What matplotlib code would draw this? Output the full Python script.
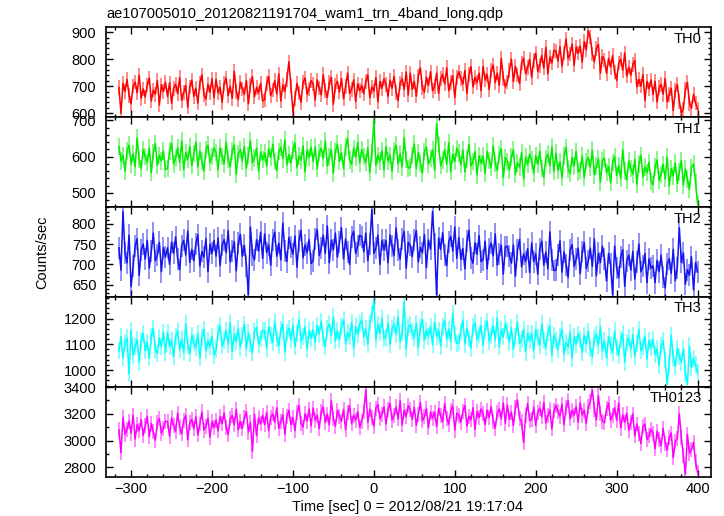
import matplotlib
matplotlib.use("Agg")
import matplotlib.pyplot as plt
import numpy as np
from matplotlib.ticker import MultipleLocator

plt.rcParams['font.family'] = ['Liberation Sans', 'DejaVu Sans']

title = "ae107005010_20120821191704_wam1_trn_4band_long.qdp"
xlabel = "Time [sec] 0 = 2012/08/21 19:17:04"
ylabel = "Counts/sec"

# time bins (sec), 2.5 s bins from -315 to 400
t = np.arange(-315, 400.1, 2.5)

th0 = [695, 600, 710, 680, 725, 665, 635, 700, 715, 675, 740, 655, 690, 660, 705, 730, 645, 685, 670, 720, 630, 705, 680, 715,
       662, 712, 637, 692, 707, 672, 732, 647, 677, 702, 622, 697, 722, 662, 692, 637, 712, 742, 667, 652, 707, 677, 727, 657,
       725, 675, 695, 640, 710, 730, 665, 700, 655, 755, 680, 650, 715, 690, 670, 720, 635, 705, 735, 660, 695, 675, 710, 645,
       650, 710, 735, 665, 685, 720, 670, 745, 645, 705, 680, 725, 790, 700, 605, 655, 710, 675, 640, 715, 730, 670, 690, 720,
       708, 648, 723, 693, 668, 743, 683, 658, 713, 733, 633, 703, 718, 678, 728, 653, 698, 748, 673, 688, 723, 643, 708, 683,
       702, 672, 717, 742, 657, 697, 682, 732, 642, 717, 692, 727, 707, 662, 722, 692, 737, 677, 647, 712, 727, 687, 752, 667,
       748, 688, 718, 663, 738, 768, 693, 678, 733, 703, 753, 683, 698, 748, 673, 728, 743, 708, 768, 683, 713, 738, 658, 733,
       753, 728, 708, 758, 673, 743, 773, 698, 733, 713, 748, 683, 773, 723, 743, 688, 758, 778, 713, 748, 703, 803, 728, 698,
       715, 757, 800, 717, 774, 742, 709, 786, 803, 746, 768, 800, 733, 795, 822, 755, 777, 814, 767, 844, 746, 808, 786, 833,
       830, 793, 846, 774, 822, 875, 802, 819, 856, 778, 845, 822, 848, 789, 865, 835, 905, 882, 819, 790, 840, 855, 748, 810,
       797, 747, 803, 770, 813, 752, 721, 785, 800, 759, 823, 737, 771, 740, 780, 795, 698, 725, 700, 743, 647, 718, 690, 723,
       670, 718, 641, 694, 707, 670, 728, 641, 669, 692, 610, 683, 706, 644, 600, 615, 687, 714, 636, 618, 670, 637, 615]

th1 = [628, 588, 604, 560, 616, 632, 580, 608, 572, 652, 592, 568, 620, 600, 584, 624, 556, 612, 636, 576, 604, 588, 616, 564,
       568, 616, 636, 580, 596, 624, 584, 644, 564, 612, 592, 628, 576, 608, 640, 572, 616, 588, 560, 620, 632, 584, 600, 624,
       612, 564, 624, 600, 580, 640, 592, 572, 616, 632, 552, 608, 620, 588, 628, 568, 604, 644, 584, 596, 624, 560, 612, 592,
       610, 574, 622, 598, 634, 586, 562, 614, 626, 594, 646, 578, 606, 582, 618, 638, 570, 602, 590, 630, 558, 618, 598, 626,
       587, 627, 567, 611, 623, 595, 643, 575, 599, 619, 555, 615, 635, 587, 611, 567, 627, 651, 591, 579, 623, 599, 639, 583,
       620, 600, 584, 624, 556, 612, 700, 576, 604, 588, 616, 564, 628, 588, 604, 560, 616, 632, 580, 608, 572, 652, 592, 568,
       571, 603, 635, 567, 611, 583, 555, 615, 627, 579, 595, 619, 563, 690, 631, 575, 591, 619, 579, 639, 559, 607, 587, 623,
       610, 578, 618, 558, 594, 634, 574, 586, 614, 550, 602, 582, 602, 554, 614, 590, 570, 630, 582, 562, 606, 622, 542, 598,
       587, 563, 599, 619, 551, 583, 571, 611, 539, 599, 579, 607, 591, 555, 603, 579, 615, 567, 543, 595, 607, 575, 627, 559,
       610, 562, 586, 542, 602, 626, 566, 554, 598, 574, 614, 558, 562, 602, 542, 586, 598, 570, 618, 550, 574, 594, 530, 590,
       596, 556, 572, 528, 584, 600, 548, 576, 540, 620, 560, 536, 588, 568, 552, 592, 524, 580, 604, 544, 572, 556, 584, 532,
       523, 571, 591, 535, 551, 579, 539, 599, 519, 567, 547, 583, 526, 558, 590, 522, 566, 538, 510, 570, 580, 530, 470]

th2 = [741, 686, 830, 727, 704, 772, 645, 695, 745, 763, 673, 736, 750, 713, 759, 691, 732, 777, 709, 722, 754, 682, 741, 718,
       741, 700, 755, 727, 768, 714, 687, 746, 759, 723, 782, 705, 737, 709, 750, 773, 696, 732, 718, 764, 682, 750, 727, 759,
       720, 765, 697, 747, 761, 729, 783, 706, 733, 756, 684, 752, 774, 720, 747, 697, 625, 792, 724, 711, 761, 733, 779, 715,
       775, 729, 748, 698, 761, 779, 720, 752, 711, 802, 734, 707, 766, 743, 725, 770, 693, 757, 784, 716, 748, 729, 761, 702,
       709, 763, 786, 722, 740, 772, 727, 795, 704, 759, 736, 777, 718, 754, 790, 713, 763, 731, 700, 768, 781, 727, 745, 772,
       768, 731, 777, 709, 750, 835, 727, 740, 772, 700, 759, 736, 759, 704, 772, 745, 722, 790, 736, 713, 763, 781, 691, 754,
       747, 719, 760, 783, 706, 742, 728, 774, 692, 760, 737, 830, 751, 625, 765, 737, 778, 724, 697, 756, 769, 733, 792, 715,
       766, 712, 739, 689, 757, 784, 716, 703, 753, 725, 771, 707, 712, 757, 689, 739, 753, 721, 775, 698, 725, 748, 676, 744,
       744, 721, 703, 748, 671, 735, 762, 694, 726, 707, 739, 680, 753, 707, 726, 676, 739, 757, 698, 730, 689, 780, 712, 685,
       686, 722, 758, 681, 731, 699, 668, 736, 749, 695, 713, 740, 677, 731, 754, 690, 708, 740, 695, 763, 672, 727, 704, 745,
       714, 659, 727, 700, 625, 745, 691, 668, 718, 736, 646, 709, 723, 686, 732, 664, 705, 750, 682, 695, 727, 655, 714, 691,
       696, 655, 710, 682, 723, 669, 642, 701, 714, 678, 737, 660, 692, 790, 705, 728, 651, 687, 673, 719, 637, 705, 682]

th3 = [1075, 1130, 1047, 1108, 1125, 985, 1152, 1058, 1091, 1119, 1031, 1114, 1141, 1075, 1108, 1047, 1130, 1163, 1080, 1064, 1125, 1091, 1147, 1069,
       1147, 1091, 1114, 1053, 1130, 1152, 1080, 1119, 1069, 1180, 1097, 1064, 1136, 1108, 1086, 1141, 1047, 1125, 1158, 1075, 1114, 1091, 1130, 1058,
       1078, 1144, 1172, 1094, 1116, 1155, 1100, 1183, 1072, 1139, 1111, 1161, 1089, 1133, 1177, 1083, 1144, 1105, 1067, 1150, 1166, 1100, 1122, 1155,
       1152, 1085, 1168, 1135, 1107, 1190, 1124, 1096, 1157, 1179, 1069, 1146, 1163, 1118, 1174, 1091, 1141, 1196, 1113, 1129, 1168, 1080, 1152, 1124,
       1157, 1107, 1174, 1140, 1190, 1124, 1091, 1163, 1179, 1135, 1207, 1113, 1152, 1118, 1168, 1196, 1102, 1146, 1129, 1185, 1085, 1168, 1140, 1179,
       1194, 1128, 1161, 1100, 1183, 1216, 1270, 1117, 1178, 1144, 1200, 1122, 1128, 1183, 1100, 1161, 1178, 1139, 1205, 1111, 1144, 1265, 1084, 1167,
       1176, 1148, 1126, 1181, 1087, 1165, 1198, 1115, 1154, 1131, 1170, 1098, 1187, 1131, 1154, 1093, 1170, 1192, 1120, 1159, 1109, 1220, 1137, 1104,
       1107, 1151, 1195, 1101, 1162, 1123, 1085, 1168, 1184, 1118, 1140, 1173, 1096, 1162, 1190, 1112, 1134, 1173, 1118, 1201, 1090, 1157, 1129, 1179,
       1153, 1108, 1164, 1081, 1131, 1186, 1103, 1119, 1158, 1070, 1142, 1114, 1142, 1075, 1158, 1125, 1097, 1180, 1114, 1086, 1147, 1169, 1059, 1136,
       1113, 1079, 1129, 1157, 1063, 1107, 1090, 1146, 1046, 1129, 1101, 1140, 1118, 1068, 1135, 1101, 1151, 1085, 1052, 1124, 1140, 1096, 1168, 1074,
       1114, 1047, 1130, 1097, 1069, 1152, 1086, 1058, 1119, 1141, 1031, 1108, 1125, 1080, 1136, 1053, 1103, 1158, 1075, 1091, 1130, 1042, 1114, 1086,
       1119, 1061, 1082, 1019, 1094, 1114, 1040, 945, 1025, 1134, 1049, 1014, 1084, 1054, 1030, 1083, 987, 945, 1094, 1009, 1046, 1021, 990]

th0123 = [3080, 2910, 3173, 3047, 3083, 3146, 3056, 3191, 3011, 3119, 3074, 3155, 3038, 3110, 3182, 3029, 3128, 3065, 3002, 3137, 3164, 3056, 3092, 3146,
          3142, 3034, 3169, 3115, 3070, 3205, 3097, 3052, 3151, 3187, 3007, 3133, 3160, 3088, 3178, 3043, 3124, 3214, 3079, 3106, 3169, 3025, 3142, 3097,
          3153, 3072, 3180, 3126, 3207, 3099, 3045, 3162, 3189, 3117, 3234, 3081, 3144, 3090, 3171, 3216, 3063, 3135, 2920, 3198, 3036, 3171, 3126, 3189,
          3119, 3209, 3074, 3173, 3200, 3137, 3245, 3092, 3146, 3191, 3047, 3182, 3227, 3119, 3173, 3074, 3209, 3263, 3128, 3101, 3200, 3146, 3236, 3110,
          3243, 3153, 3189, 3090, 3216, 3252, 3135, 3198, 3117, 3297, 3162, 3108, 3225, 3180, 3144, 3234, 3081, 3207, 3261, 3126, 3189, 3153, 3216, 3099,
          3144, 3216, 3380, 3135, 3234, 3171, 3108, 3243, 3270, 3162, 3198, 3252, 3126, 3234, 3279, 3153, 3189, 3252, 3162, 3297, 3117, 3225, 3180, 3261,
          3231, 3159, 3249, 3114, 3195, 3285, 3150, 3177, 3240, 3096, 3213, 3168, 3213, 3105, 3240, 3186, 3141, 3276, 3168, 3123, 3222, 3258, 3078, 3204,
          3191, 3137, 3218, 3263, 3110, 3182, 3155, 3245, 3083, 3218, 3173, 3236, 3200, 3119, 3227, 3173, 3254, 3146, 3092, 3209, 3236, 3164, 3281, 3128,
          3267, 3159, 3213, 3114, 3249, 3303, 3168, 3141, 2985, 3186, 3276, 3150, 3159, 3249, 3114, 3213, 3240, 3177, 3285, 3132, 3186, 3231, 3087, 3222,
          3263, 3218, 3182, 3272, 3119, 3245, 3299, 3164, 3227, 3191, 3254, 3137, 3281, 3191, 3227, 3128, 3254, 3290, 3380, 3236, 3155, 3335, 3200, 3146,
          3133, 3238, 3281, 3153, 3186, 3246, 3152, 3281, 3094, 3192, 3137, 3205, 3076, 3136, 3198, 3035, 3124, 3051, 2978, 3105, 3124, 3008, 3036, 3084,
          3052, 2939, 3070, 3011, 2962, 3092, 2980, 2930, 3025, 3056, 2872, 2993, 3015, 3200, 3024, 2885, 2750, 3047, 2907, 2930, 2988, 2840, 2760]

names = ["TH0", "TH1", "TH2", "TH3", "TH0123"]
series = [th0, th1, th2, th3, th0123]
errors = [27, 24, 27, 33, 56]
colors = ["#ff0000", "#00ee00", "#1414f0", "#00ffff", "#ff00ff"]
ylims = [(585, 918), (461, 709), (620, 841), (935, 1284), (2730, 3402)]
ymajor = [100, 100, 50, 100, 200]
yminor = [20, 20, 10, 20, 100]

fig = plt.figure(figsize=(7.24, 5.16), dpi=100)
axes = fig.subplots(5, 1, sharex=True)
fig.subplots_adjust(left=106 / 724, right=710.5 / 724, top=1 - 27.3 / 516,
                    bottom=1 - 476.7 / 516, hspace=0)

for i, ax in enumerate(axes):
    v = np.array(series[i], dtype=float)
    e = errors[i]
    c = colors[i]
    # error bars (light) and the light curve itself
    ax.vlines(t, v - e, v + e, color=c, alpha=0.5, lw=1.3)
    ax.plot(t, v, color=c, lw=1.1)
    ax.set_xlim(-331, 416)
    ax.set_ylim(*ylims[i])
    ax.xaxis.set_major_locator(MultipleLocator(100))
    ax.xaxis.set_minor_locator(MultipleLocator(20))
    ax.yaxis.set_major_locator(MultipleLocator(ymajor[i]))
    ax.yaxis.set_minor_locator(MultipleLocator(yminor[i]))
    ax.tick_params(which='both', direction='in', top=True, right=True,
                   labelsize=10.5, width=1)
    ax.tick_params(which='major', length=5, pad=7)
    ax.tick_params(which='minor', length=2.5)
    ax.tick_params(axis='x', pad=3.5)
    for s in ax.spines.values():
        s.set_linewidth(1.2)
    ax.text(0.985, 0.95, names[i], transform=ax.transAxes, ha='right',
            va='top', fontsize=10.5)

fig.text(106 / 724, 1 - 14 / 516, title, ha='left', va='center', fontsize=10.5)
fig.text(408 / 724, 1 - 507 / 516, xlabel, ha='center', va='center', fontsize=10.5)
fig.text(42 / 724, 1 - 252 / 516, ylabel, rotation=90, ha='center',
         va='center', fontsize=10.5)

fig.savefig("out.png", dpi=100)
